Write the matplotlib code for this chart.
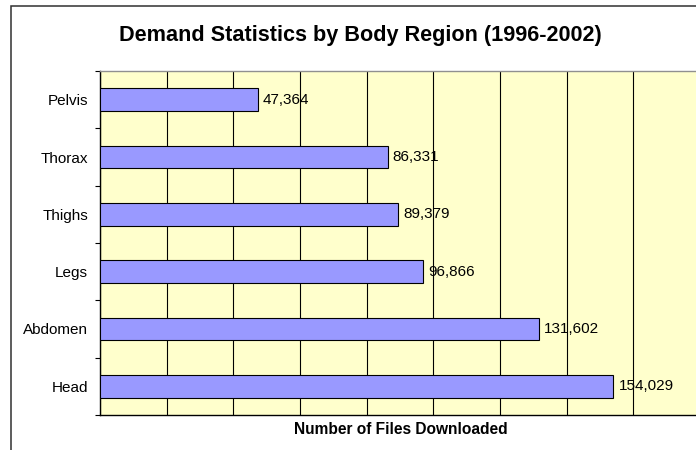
import matplotlib
matplotlib.use("Agg")
import matplotlib.pyplot as plt
from matplotlib.patches import Rectangle
from matplotlib.ticker import MultipleLocator

# data, listed bottom to top as drawn
regions = ["Head", "Abdomen", "Legs", "Thighs", "Thorax", "Pelvis"]
downloads = [154029, 131602, 96866, 89379, 86331, 47364]

title = "Demand Statistics by Body Region (1996-2002)"
xlabel = "Number of Files Downloaded"

plt.rcParams["font.family"] = ["Liberation Sans", "DejaVu Sans"]

W, H = 696, 450
fig = plt.figure(figsize=(W / 100, H / 100), dpi=100)
fig.patch.set_facecolor("white")

# plot area in pixel terms: left 100, right 700, top 71, bottom 415
ax = fig.add_axes([100 / W, 1 - 415 / H, 600 / W, (415 - 71) / H])
ax.set_facecolor("#FFFFCC")

ypos = list(range(len(regions)))
ax.barh(ypos, downloads, height=0.4, color="#9999FF",
        edgecolor="black", linewidth=0.8, zorder=3)

for y, v in zip(ypos, downloads):
    ax.annotate("{:,}".format(v), (v, y), xytext=(3.6, 0), textcoords="offset points",
                va="center", ha="left", fontsize=11, color="black", zorder=4)

ax.set_xlim(0, 180000)
ax.set_ylim(-0.5, len(regions) - 0.5)

ax.xaxis.set_major_locator(MultipleLocator(20000))
ax.xaxis.grid(True, color="black", linewidth=0.8, zorder=1)
ax.tick_params(axis="x", length=0, labelbottom=False)

ax.set_yticks(ypos)
ax.set_yticklabels(regions, fontsize=11)
ax.yaxis.set_minor_locator(MultipleLocator(1, offset=0.5))
ax.tick_params(axis="y", which="major", length=0, pad=8.6)
ax.tick_params(axis="y", which="minor", length=3.5, width=0.8, color="black", direction="out")

ax.spines["left"].set_color("black")
ax.spines["left"].set_linewidth(1.0)
ax.spines["bottom"].set_color("black")
ax.spines["bottom"].set_linewidth(1.0)
ax.spines["top"].set_color("#909090")
ax.spines["top"].set_linewidth(1.0)
ax.spines["right"].set_visible(False)

fig.text(360 / W, 1 - 35 / H, title, ha="center", va="center",
         fontsize=15.6, fontweight="bold")
fig.text(400.5 / W, 1 - 430 / H, xlabel, ha="center", va="center",
         fontsize=11.2, fontweight="bold")

# chart border (right and bottom edges fall outside the picture)
fig.patches.append(Rectangle((11 / W, -0.1), 1.2, 1.1 - 5.7 / H, transform=fig.transFigure,
                             fill=False, edgecolor="#303030", linewidth=1.1))

fig.savefig("out.png", dpi=100)
